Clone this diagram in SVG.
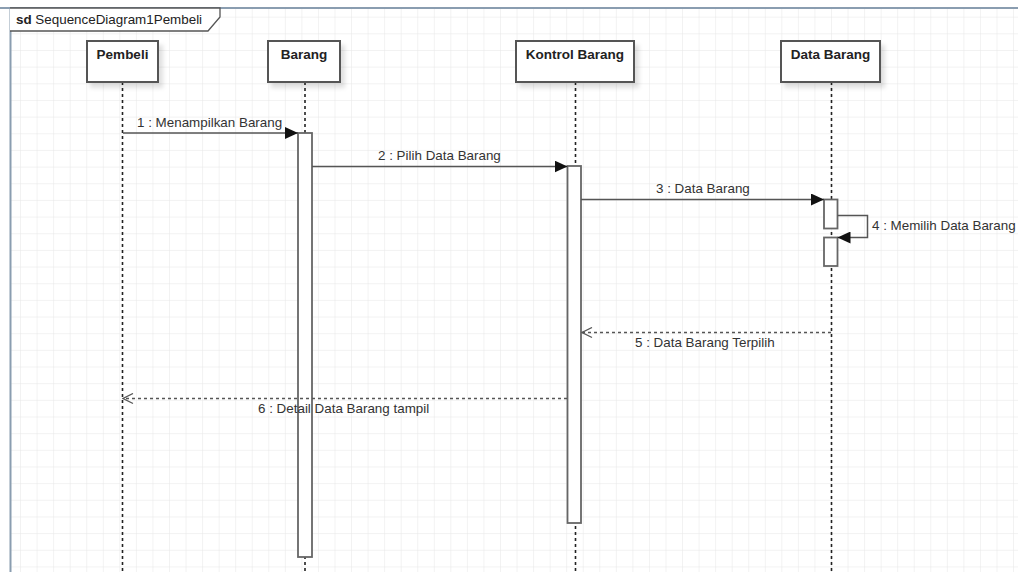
<svg xmlns="http://www.w3.org/2000/svg" width="1018" height="572" viewBox="0 0 1018 572">
<style>
.lbl{font-family:"Liberation Sans",Arial,sans-serif;font-size:13.4px;fill:#333}
.title{font-family:"Liberation Sans",Arial,sans-serif;font-size:13.5px;font-weight:bold;fill:#222;text-anchor:middle}
.box{fill:#fff;stroke:#555;stroke-width:2}
.life{stroke:#222;stroke-width:1.6;stroke-dasharray:3 3;fill:none}
.act{fill:#fff;stroke:#666;stroke-width:1.8}
.msg{stroke:#555;stroke-width:1.5;fill:none}
.ret{stroke:#555;stroke-width:1.4;stroke-dasharray:3 3;fill:none}
</style>
<defs>
<pattern id="grid" x="3.5" y="0" width="16.55" height="16.66" patternUnits="userSpaceOnUse">
<path d="M0,0 V16.66 M0,0 H16.55" stroke="#e6e6e6" stroke-width="1" fill="none"/>
</pattern>
<marker id="fill" markerWidth="14" markerHeight="12" refX="13" refY="6" orient="auto" markerUnits="userSpaceOnUse">
<path d="M0,0 L13,6 L0,12 Z" fill="#111"/>
</marker>
<marker id="open" markerWidth="12" markerHeight="12" refX="11" refY="6" orient="auto" markerUnits="userSpaceOnUse">
<path d="M1,1 L11,6 L1,11" fill="none" stroke="#555" stroke-width="1.3"/>
</marker>
<filter id="sh" x="-10%" y="-10%" width="130%" height="140%">
<feDropShadow dx="4" dy="5" stdDeviation="2" flood-color="#000" flood-opacity="0.12"/>
</filter>
</defs>
<rect width="1018" height="572" fill="#fff"/>
<rect x="10" y="8" width="1008" height="564" fill="url(#grid)"/>
<g id="frame">
<line x1="0" y1="8" x2="1018" y2="8" stroke="#8a9db0" stroke-width="2"/>
<line x1="10.5" y1="8" x2="10.5" y2="572" stroke="#8a9db0" stroke-width="2"/>
<path d="M10,8 H220 V17 L208,31 H10" fill="#fff" stroke="#555" stroke-width="1.3"/>
<text x="16" y="24" font-family="Liberation Sans,Arial,sans-serif" font-size="13.4px" fill="#222"><tspan font-weight="bold">sd</tspan> SequenceDiagram1Pembeli</text>
</g>
<g id="Pembeli">
<line class="life" x1="122.5" y1="82" x2="122.5" y2="572"/>
<rect class="box" x="87" y="41" width="71" height="41" filter="url(#sh)"/>
<text class="title" x="122.5" y="59">Pembeli</text>
</g>
<g id="Barang">
<line class="life" x1="305" y1="82" x2="305" y2="572"/>
<rect class="box" x="268" y="41" width="72" height="41" filter="url(#sh)"/>
<text class="title" x="304" y="59">Barang</text>
<rect class="act" x="298" y="133" width="14" height="424"/>
</g>
<g id="KontrolBarang">
<line class="life" x1="575.5" y1="82" x2="575.5" y2="572"/>
<rect class="box" x="516" y="41" width="118" height="41" filter="url(#sh)"/>
<text class="title" x="575" y="59">Kontrol Barang</text>
<rect class="act" x="567.5" y="166" width="13.5" height="357"/>
</g>
<g id="DataBarang">
<line class="life" x1="831.5" y1="82" x2="831.5" y2="572"/>
<rect class="box" x="781" y="41" width="99" height="41" filter="url(#sh)"/>
<text class="title" x="830.5" y="59">Data Barang</text>
<rect class="act" x="824" y="199.5" width="13.5" height="29"/>
<rect class="act" x="824" y="237.5" width="13.5" height="28.5"/>
</g>
<g id="connectors">
<line class="msg" x1="123" y1="133" x2="298" y2="133" marker-end="url(#fill)"/>
<text class="lbl" x="137" y="127">1 : Menampilkan Barang</text>
<line class="msg" x1="312" y1="166.5" x2="567.5" y2="166.5" marker-end="url(#fill)"/>
<text class="lbl" x="378" y="160">2 : Pilih Data Barang</text>
<line class="msg" x1="581" y1="199.5" x2="824" y2="199.5" marker-end="url(#fill)"/>
<text class="lbl" x="656" y="193">3 : Data Barang</text>
<path class="msg" d="M837.5,215.5 H867.5 V237.5 H837.5" marker-end="url(#fill)"/>
<text class="lbl" x="872" y="230">4 : Memilih Data Barang</text>
<line class="ret" x1="831" y1="332.5" x2="582" y2="332.5" marker-end="url(#open)"/>
<text class="lbl" x="635" y="347">5 : Data Barang Terpilih</text>
<line class="ret" x1="567" y1="398.5" x2="123" y2="398.5" marker-end="url(#open)"/>
<text class="lbl" x="258" y="413">6 : Detail Data Barang tampil</text>
</g>
</svg>
